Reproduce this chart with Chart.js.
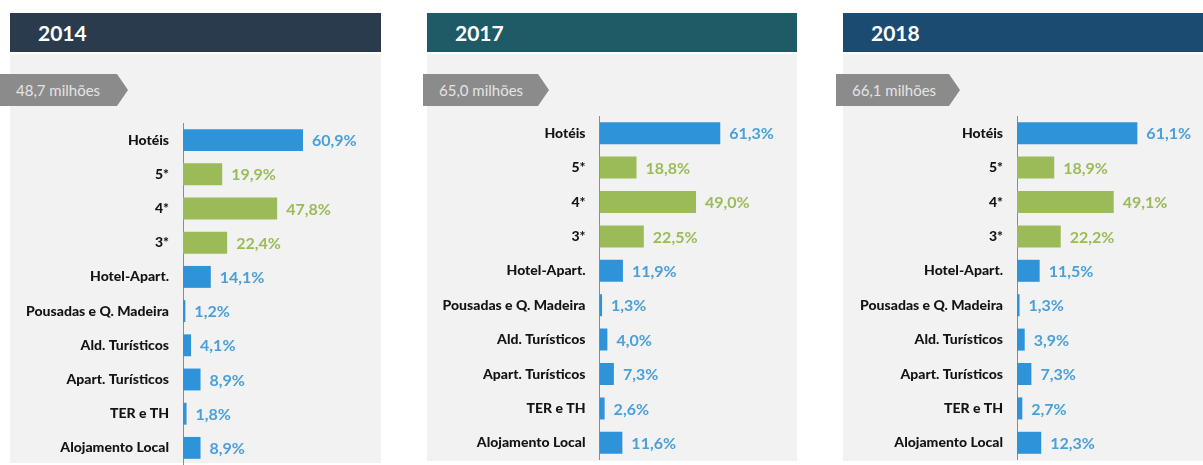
<!DOCTYPE html>
<html>
<head>
<meta charset="utf-8">
<script src="https://cdn.jsdelivr.net/npm/chart.js@4.4.1/dist/chart.umd.min.js"></script>
<style>
  html, body { margin: 0; padding: 0; background: #fff; }
  body { width: 1203px; height: 465px; position: relative; overflow: hidden; font-family: Lato, "Open Sans", sans-serif; }
  .panel { position: absolute; background: #f2f2f2; }
  .header { position: absolute; height: 39px; top: 13px; color: #fff; font-weight: bold; font-size: 21px; line-height: 40px; padding-left: 28px; box-sizing: border-box; }
  .total { position: absolute; top: 74px; height: 32px; line-height: 32px; color: #e4e4e4; font-size: 15px; padding-left: 16px; box-sizing: border-box; background: #8b8b8b;
           clip-path: polygon(0 0, calc(100% - 11px) 0, 100% 50%, calc(100% - 11px) 100%, 0 100%); }
  canvas { position: absolute; }
</style>
</head>
<body>
<script>
// Alojamento turístico: repartição das dormidas por tipologia
const categories = ['Hotéis', '5*', '4*', '3*', 'Hotel-Apart.', 'Pousadas e Q. Madeira',
  'Ald. Turísticos', 'Apart. Turísticos', 'TER e TH', 'Alojamento Local'];
const years = ['2014', '2017', '2018'];
const totals = ['48,7 milhões', '65,0 milhões', '66,1 milhões'];
const share2014 = [60.9, 19.9, 47.8, 22.4, 14.1, 1.2, 4.1, 8.9, 1.8, 8.9];
const share2017 = [61.3, 18.8, 49.0, 22.5, 11.9, 1.3, 4.0, 7.3, 2.6, 11.6];
const share2018 = [61.1, 18.9, 49.1, 22.2, 11.5, 1.3, 3.9, 7.3, 2.7, 12.3];
const starCategories = ['5*', '4*', '3*'];

const BLUE = '#2f93d9', GREEN = '#9bbb59';
const BLUE_TXT = '#4aa0da', GREEN_TXT = '#9bbb59';
const PX_PER_PCT = 1.97;

const panels = [
  { year: years[0], total: totals[0], data: share2014, color: '#2b3b4e',
    left: 10, width: 371, bgBottom: 463, chartTop: 123, chartH: 342, axisW: 173, arrowLeft: 0, arrowW: 128 },
  { year: years[1], total: totals[1], data: share2017, color: '#1f5b66',
    left: 427, width: 370, bgBottom: 461, chartTop: 116, chartH: 344, axisW: 172.5, arrowLeft: 423, arrowW: 126 },
  { year: years[2], total: totals[2], data: share2018, color: '#1b4b70',
    left: 843, width: 360, bgBottom: 461, chartTop: 116, chartH: 344, axisW: 174, arrowLeft: 836, arrowW: 124 }
];

// writes the percentage just past the end of each bar
const valueLabels = {
  id: 'valueLabels',
  afterDatasetsDraw(chart) {
    const ctx = chart.ctx;
    const ds = chart.data.datasets[0];
    chart.getDatasetMeta(0).data.forEach((bar, i) => {
      const star = starCategories.includes(chart.data.labels[i]);
      ctx.save();
      ctx.font = 'bold 16px Lato, "Open Sans", sans-serif';
      ctx.fillStyle = star ? GREEN_TXT : BLUE_TXT;
      ctx.textAlign = 'left';
      ctx.textBaseline = 'middle';
      ctx.fillText(ds.data[i].toFixed(1).replace('.', ',') + '%', bar.x + 9, bar.y + 1);
      ctx.restore();
    });
  }
};

panels.forEach(p => {
  const bg = document.createElement('div');
  bg.className = 'panel';
  Object.assign(bg.style, { left: p.left + 'px', width: p.width + 'px', top: '54px', height: (p.bgBottom - 54) + 'px' });
  document.body.appendChild(bg);

  const head = document.createElement('div');
  head.className = 'header';
  head.textContent = p.year;
  Object.assign(head.style, { left: p.left + 'px', width: p.width + 'px', background: p.color });
  document.body.appendChild(head);

  const tag = document.createElement('div');
  tag.className = 'total';
  tag.textContent = p.total;
  Object.assign(tag.style, { left: p.arrowLeft + 'px', width: p.arrowW + 'px' });
  document.body.appendChild(tag);

  const canvas = document.createElement('canvas');
  canvas.width = p.width;
  canvas.height = p.chartH;
  Object.assign(canvas.style, { left: p.left + 'px', top: p.chartTop + 'px' });
  document.body.appendChild(canvas);

  new Chart(canvas.getContext('2d'), {
    type: 'bar',
    data: {
      labels: categories,
      datasets: [{
        data: p.data,
        backgroundColor: categories.map(c => starCategories.includes(c) ? GREEN : BLUE),
        borderWidth: 0,
        barPercentage: 0.64,
        categoryPercentage: 1
      }]
    },
    options: {
      indexAxis: 'y',
      responsive: false,
      animation: false,
      layout: { padding: 0 },
      plugins: { legend: { display: false }, tooltip: { enabled: false } },
      scales: {
        x: { display: false, min: 0, max: (p.width - p.axisW) / PX_PER_PCT },
        y: {
          grid: { display: false, drawTicks: false },
          border: { display: true, color: '#8c8c8c', width: 1 },
          ticks: { color: '#141414', padding: 14, font: { family: 'Lato, "Open Sans", sans-serif', size: 14, weight: '900' } },
          afterFit(scale) {
            // fixed label column, and no extra room above/below the bands
            scale.width = p.axisW;
            scale.paddingTop = 0;
            scale.paddingBottom = 0;
          }
        }
      }
    },
    plugins: [valueLabels]
  });
});
</script>
</body>
</html>
